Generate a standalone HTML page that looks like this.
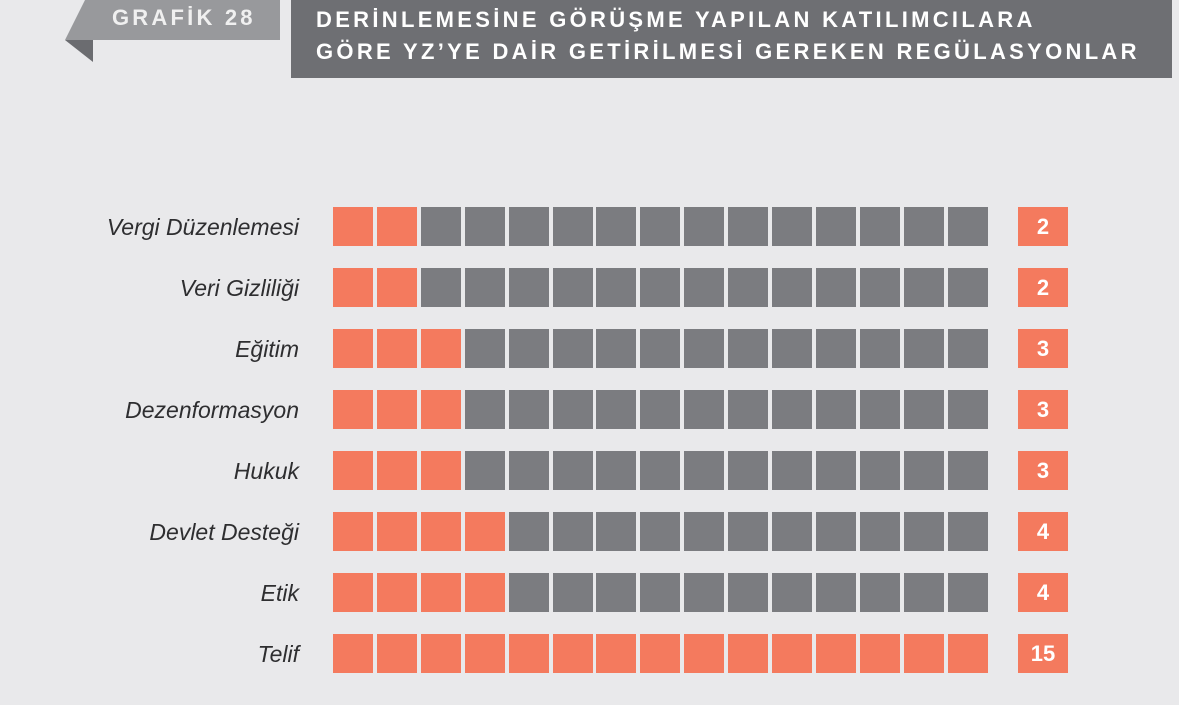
<!DOCTYPE html>
<html><head><meta charset="utf-8"><style>
body{margin:0;width:1179px;height:705px;background:#e9e9eb;position:relative;overflow:hidden;font-family:"Liberation Sans",sans-serif}
.t{position:absolute;color:#fff;font-weight:bold;white-space:nowrap}
.lab{position:absolute;right:880px;font-style:italic;font-size:23px;color:#2e2e30;line-height:40px;white-space:nowrap}
.sq{position:absolute;width:40px;height:39px}
.o{background:#f47a5e}.g{background:#7b7c80}
.v{position:absolute;left:1018px;width:50px;height:39px;background:#f47a5e;color:#fff;font-weight:bold;font-size:22px;text-align:center;line-height:39px}
</style></head><body>
<svg width="300" height="70" style="position:absolute;left:0;top:0">
<polygon points="65,40 93,62 93,40" fill="#6b6c70"/>
<polygon points="85,0 280,0 280,40 65,40" fill="#98999c"/>
</svg>
<div class="t" style="left:112px;top:5px;font-size:22px;letter-spacing:3.2px;color:#f0f0f0">GRAFİK 28</div>
<div style="position:absolute;left:291px;top:0;width:881px;height:78px;background:#6e6f73"></div>
<div class="t" style="left:316px;top:7px;font-size:22px;letter-spacing:3.3px">DERİNLEMESİNE GÖRÜŞME YAPILAN KATILIMCILARA</div>
<div class="t" style="left:316px;top:39px;font-size:22px;letter-spacing:3.3px">GÖRE YZ’YE DAİR GETİRİLMESİ GEREKEN REGÜLASYONLAR</div>
<div id="c"></div>
<script>
var d=[["Vergi Düzenlemesi",2],["Veri Gizliliği",2],["Eğitim",3],["Dezenformasyon",3],["Hukuk",3],["Devlet Desteği",4],["Etik",4],["Telif",15]];
var h="";
d.forEach(function(r,i){var y=207+i*61;
h+='<div class="lab" style="top:'+y+'px">'+r[0]+'</div>';
for(var k=0;k<15;k++)h+='<div class="sq '+(k<r[1]?'o':'g')+'" style="left:'+(333+k*43.9)+'px;top:'+y+'px"></div>';
h+='<div class="v" style="top:'+y+'px">'+r[1]+'</div>';});
document.getElementById("c").innerHTML=h;
</script>
</body></html>
